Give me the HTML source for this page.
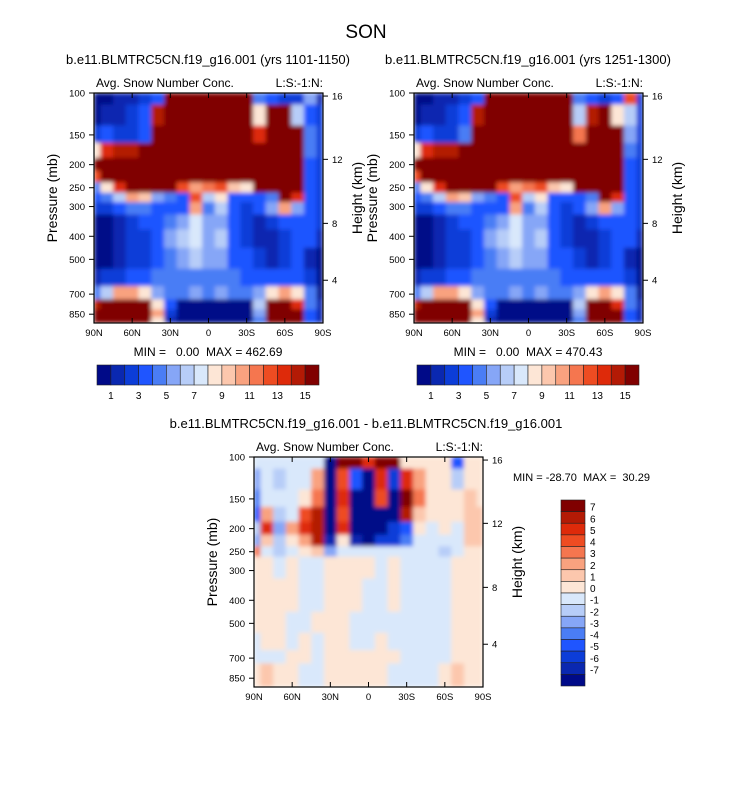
<!DOCTYPE html>
<html><head><meta charset="utf-8">
<style>
body{margin:0;background:#fff;}
svg text{font-family:"Liberation Sans",sans-serif;fill:#000;white-space:pre;}
</style></head>
<body>
<svg id="fig" width="733" height="784" xmlns="http://www.w3.org/2000/svg">
<defs>
<filter id="sm" x="0" y="0" width="1" height="1" filterUnits="objectBoundingBox"><feGaussianBlur stdDeviation="2.2" edgeMode="duplicate"/></filter>
</defs>
<text x="366" y="38" font-size="19" text-anchor="middle">SON</text>
</svg>
<script>
const lats=[90,80,70,60,50,40,30,20,10,0,-10,-20,-30,-40,-50,-60,-70,-80,-90];
const levels=[100,125,150,175,200,225,250,275,300,350,400,500,600,700,775,850,900];
const palette=["#000a88","#0a28b0","#0c3dd8","#1f55ff","#4a7df5","#86a6f7","#b7cdf8","#d9e8fb","#fde6d6","#fcc7ad","#f9a27f","#f5764f","#ee4c22","#de2a0a","#b31a05","#800000"];
const xTicks=["90N","60N","30N","0","30S","60S","90S"];
const pTicks=[100,150,200,250,300,400,500,700,850];
const hTicks=[16,12,8,4];
const hTickP=[103,190,353,612];
const cbLabelsH=["1","3","5","7","9","11","13","15"];
const cbLabelsV=["7","6","5","4","3","2","1","0","-1","-2","-3","-4","-5","-6","-7"];
const dataA=[
[0,0,1,1,2,3,15,15,15,15,15,15,15,4,3,2,2,5,1],
[0,1,1,2,3,14,15,15,15,15,15,15,15,8,15,15,6,3,2],
[2,3,2,2,3,15,15,15,15,15,15,15,15,13,15,15,15,4,2],
[8,13,14,14,15,15,15,15,15,15,15,15,15,15,15,15,15,4,2],
[15,15,15,15,15,15,15,15,15,15,15,15,15,15,15,15,15,3,2],
[12,15,15,15,15,15,15,15,15,15,15,15,15,15,15,15,15,3,2],
[4,8,13,15,15,15,15,12,10,11,12,9,8,15,15,15,15,3,2],
[3,4,6,10,9,5,4,3,12,6,8,3,3,3,4,15,13,3,2],
[2,2,3,4,4,3,3,3,10,4,6,3,2,3,5,10,5,3,2],
[0,0,1,2,3,3,4,5,7,5,5,3,2,1,2,3,3,3,2],
[0,0,1,2,2,3,5,6,7,5,6,3,2,1,1,2,3,3,1],
[0,0,1,2,2,3,4,5,6,5,5,3,3,2,1,2,3,1,0],
[1,2,2,3,3,4,4,4,4,4,4,4,3,3,3,3,3,2,0],
[4,6,10,10,8,5,4,4,5,4,5,4,4,5,8,10,8,4,0],
[14,15,15,15,15,8,3,0,0,0,0,0,0,6,15,15,13,4,1],
[15,15,15,15,15,10,2,0,0,0,0,0,0,5,15,15,15,3,1],
[15,15,15,15,15,8,1,0,0,0,0,0,0,4,15,15,15,3,1]];
const dataB=[
[0,0,1,1,2,3,15,15,15,15,15,15,15,4,3,2,3,12,2],
[0,1,1,2,3,14,15,15,15,15,15,15,15,6,14,15,8,6,2],
[2,3,2,2,4,15,15,15,15,15,15,15,15,11,15,15,15,5,2],
[8,13,14,14,15,15,15,15,15,15,15,15,15,15,15,15,15,4,2],
[15,15,15,15,15,15,15,15,15,15,15,15,15,15,15,15,15,3,2],
[12,15,15,15,15,15,15,15,15,15,15,15,15,15,15,15,15,3,2],
[4,8,13,15,15,15,15,12,10,11,12,9,8,15,15,15,15,3,2],
[3,4,6,10,9,5,4,3,12,6,8,3,3,3,4,15,13,3,2],
[2,2,3,4,4,3,3,3,10,4,6,3,2,3,5,10,5,3,2],
[0,0,1,2,3,3,4,5,7,5,5,3,2,1,2,3,3,3,2],
[0,0,1,2,2,3,5,6,7,5,6,3,2,1,1,2,3,3,1],
[0,0,1,2,2,3,4,5,6,5,5,3,3,2,1,2,3,1,0],
[1,2,2,3,3,4,4,4,4,4,4,4,3,3,3,3,3,2,0],
[4,6,10,10,8,5,4,4,5,4,5,4,4,5,8,10,8,4,0],
[14,15,15,15,15,8,3,0,0,0,0,0,0,6,15,15,13,4,1],
[15,15,15,15,15,10,2,0,0,0,0,0,0,5,15,15,15,3,1],
[15,15,15,15,15,8,1,0,0,0,0,0,0,4,15,15,15,3,1]];
const dataD=[
[7,7,7,7,7,7,0,15,15,13,15,15,8,8,8,8,3,8,8],
[5,7,6,7,7,10,0,12,3,0,13,2,13,10,8,8,6,8,8],
[4,7,7,7,8,11,0,13,0,0,12,0,15,11,8,8,8,9,8],
[3,10,6,7,12,14,0,12,0,0,0,0,14,9,8,8,8,9,9],
[6,13,5,10,13,14,0,13,0,0,0,2,3,8,7,8,7,9,9],
[5,9,6,8,10,14,1,8,1,0,2,2,4,7,7,7,7,9,9],
[11,7,6,7,8,9,5,7,7,7,7,7,7,7,7,6,7,8,8],
[8,8,7,8,7,7,8,8,8,8,7,8,7,7,7,7,8,8,8],
[8,8,7,8,7,7,8,8,8,8,7,8,7,7,7,7,8,8,8],
[8,8,8,8,7,7,8,8,8,7,7,8,7,7,7,7,8,8,8],
[8,8,8,8,7,7,8,8,8,7,7,8,7,7,7,7,8,8,8],
[8,8,8,7,7,8,8,8,7,7,7,7,7,7,7,7,8,8,8],
[7,8,8,7,8,7,8,8,7,7,8,7,7,7,7,7,8,8,8],
[7,7,7,8,8,7,8,8,8,8,8,8,7,7,7,7,8,8,8],
[8,9,8,8,7,7,8,8,8,8,8,7,7,7,7,8,9,8,8],
[8,9,8,8,7,7,8,8,8,8,8,7,7,7,7,8,9,8,8],
[8,9,8,8,7,7,8,8,8,8,8,7,7,7,7,8,9,8,8]];

const NS="http://www.w3.org/2000/svg";
const fig=document.getElementById('fig');
function mk(tag,attrs,parent,txt){const e=document.createElementNS(NS,tag);for(const k in attrs)e.setAttribute(k,attrs[k]);if(txt!==undefined)e.textContent=txt;(parent||fig).appendChild(e);return e;}
const W=229,H=230,DEC=238;
function drawPanel(data,ox,oy,name){
  const g=mk('g',{});
  
  
  const cells=mk('g',{filter:'url(#sm)'},g);
  
  
  const xs=lat=>ox+(90-lat)/180*W;
  const ys=p=>oy+DEC*Math.log10(p/100);
  const bottom=oy+H;
  for(let r=0;r<levels.length;r++){
    const pTop=r===0?levels[0]:Math.sqrt(levels[r-1]*levels[r]);
    const yT=ys(pTop);
    const yB=r===levels.length-1?bottom:ys(Math.sqrt(levels[r]*levels[r+1]));
    for(let c=0;c<lats.length;c++){
      const l1=Math.min(90,lats[c]+5),l2=Math.max(-90,lats[c]-5);
      const x1=xs(l1),x2=xs(l2);
      const w=(c===lats.length-1)?(x2-x1):(x2-x1+0.6);
      const h=(r===levels.length-1)?(yB-yT):(yB-yT+0.6);
      const cell=mk('rect',{x:x1.toFixed(2),y:yT.toFixed(2),width:w.toFixed(2),height:h.toFixed(2),fill:palette[data[r][c]]},cells);
      
      
    }
  }
  const fr=mk('rect',{x:ox,y:oy,width:W,height:H,fill:'none',stroke:'#000','stroke-width':1.2},g);
  
  
  xTicks.forEach((t,i)=>{const x=ox+i*W/6;
    mk('line',{x1:x,x2:x,y1:bottom,y2:bottom-5,stroke:'#000'},g);
    mk('line',{x1:x,x2:x,y1:oy,y2:oy+5,stroke:'#000'},g);
    const tx=mk('text',{x:x,y:bottom+13,'font-size':9.5,'text-anchor':'middle'},g,t);
    
    
  });
  pTicks.forEach(p=>{const y=ys(p);
    mk('line',{x1:ox,x2:ox-5,y1:y,y2:y,stroke:'#000'},g);
    const tx=mk('text',{x:ox-9,y:y+3.5,'font-size':9.5,'text-anchor':'end'},g,p);
    
    
  });
  hTicks.forEach((h,i)=>{const y=ys(hTickP[i]);
    mk('line',{x1:ox+W,x2:ox+W+5,y1:y,y2:y,stroke:'#000'},g);
    const tx=mk('text',{x:ox+W+9,y:y+3.5,'font-size':9.5},g,h);
    
    
  });
  const yt=mk('text',{x:0,y:0,'font-size':14,'text-anchor':'middle',transform:`translate(${ox-37},${oy+H/2-10}) rotate(-90)`},g,'Pressure (mb)');
  
  
  const ht=mk('text',{x:0,y:0,'font-size':14,'text-anchor':'middle',transform:`translate(${ox+W+39},${oy+H/2-10}) rotate(-90)`},g,'Height (km)');
  
  
  const lt=mk('text',{x:ox+2,y:oy-6,'font-size':12},g,'Avg. Snow Number Conc.');
  
  
  const rt=mk('text',{x:ox+W,y:oy-6,'font-size':12,'text-anchor':'end'},g,'L:S:-1:N:');
  
  
}
function hColorbar(ox,oy,name){
  const g=mk('g',{});
  
  
  const w=222/16;
  palette.forEach((c,i)=>{const r=mk('rect',{x:ox+i*w,y:oy,width:w,height:20,fill:c,stroke:'#222','stroke-width':0.6},g);
    
    });
  cbLabelsH.forEach((t,i)=>{const tx=mk('text',{x:ox+(1+2*i)*w,y:oy+34,'font-size':10,'text-anchor':'middle'},g,t);
    
    });
}
function vColorbar(ox,oy,name){
  const g=mk('g',{});
  
  
  const h=186/16;
  palette.slice().reverse().forEach((c,i)=>{const r=mk('rect',{x:ox,y:oy+i*h,width:24,height:h,fill:c,stroke:'#222','stroke-width':0.6},g);
    
    });
  cbLabelsV.forEach((t,i)=>{const tx=mk('text',{x:ox+29,y:oy+(i+1)*h-1,'font-size':10},g,t);
    
    });
}
function label(x,y,s,txt,name,anchor){const t=mk('text',{x:x,y:y,'font-size':s,'text-anchor':anchor||'middle'},fig,txt);
  
  }

label(208,64,13,'b.e11.BLMTRC5CN.f19_g16.001 (yrs 1101-1150)','left-panel-title');
label(528,64,13,'b.e11.BLMTRC5CN.f19_g16.001 (yrs 1251-1300)','right-panel-title');
drawPanel(dataA,94,93,'left-contour-plot');
drawPanel(dataB,414,93,'right-contour-plot');
label(208,356,12,'MIN =   0.00  MAX = 462.69','left-min-max');
label(528,356,12,'MIN =   0.00  MAX = 470.43','right-min-max');
hColorbar(97,365,'left-colorbar');
hColorbar(417,365,'right-colorbar');
label(366,428,13,'b.e11.BLMTRC5CN.f19_g16.001 - b.e11.BLMTRC5CN.f19_g16.001','diff-panel-title');
drawPanel(dataD,254,457,'diff-contour-plot');
label(513,481,11,'MIN = -28.70  MAX =  30.29','diff-min-max','start');
vColorbar(561,500,'diff-colorbar');
</script>
</body></html>
